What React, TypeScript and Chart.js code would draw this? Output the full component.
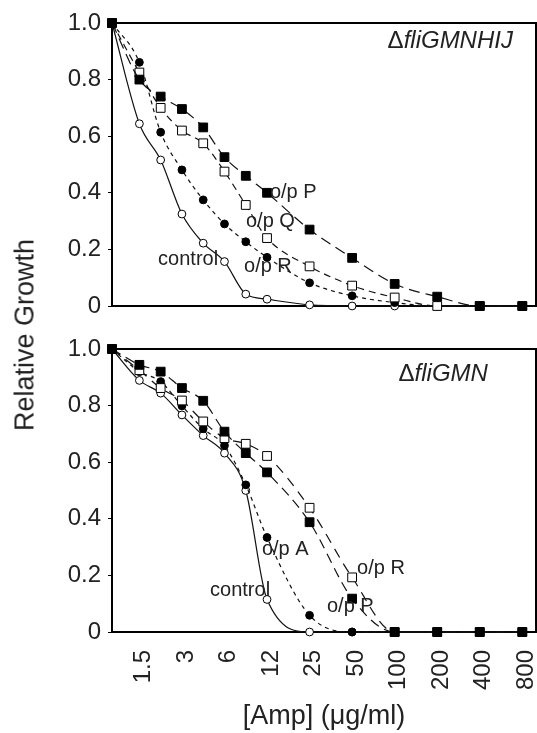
import React, { useEffect, useRef } from 'react';
import { Chart, registerables } from 'chart.js';

Chart.register(...registerables);

// ---- data ----
const concentrations = [1, 1.5625, 2.21, 3.125, 4.42, 6.25, 8.84, 12.5, 25, 50, 100, 200, 400, 800];
const tickValues = [1.5625, 3.125, 6.25, 12.5, 25, 50, 100, 200, 400, 800];
const tickLabels = ['1.5', '3', '6', '12', '25', '50', '100', '200', '400', '800'];

// top panel: ΔfliGMNHIJ
const topControl = [1.0, 0.644, 0.516, 0.325, 0.222, 0.157, 0.042, 0.024, 0.004, 0, 0, 0, 0, 0];
const topR = [1.0, 0.861, 0.614, 0.481, 0.375, 0.29, 0.227, 0.172, 0.082, 0.036, 0.012, 0, 0, 0];
const topQ = [1.0, 0.825, 0.70, 0.62, 0.575, 0.475, 0.357, 0.24, 0.14, 0.072, 0.03, 0, 0, 0];
const topP = [1.0, 0.80, 0.74, 0.696, 0.631, 0.526, 0.46, 0.40, 0.27, 0.17, 0.078, 0.033, 0, 0];

// bottom panel: ΔfliGMN
const botControl = [1.0, 0.889, 0.844, 0.767, 0.694, 0.632, 0.50, 0.115, 0, 0, 0, 0, 0, 0];
const botA = [1.0, 0.92, 0.885, 0.799, 0.718, 0.659, 0.52, 0.334, 0.059, 0, 0, 0, 0, 0];
const botR = [1.0, 0.925, 0.862, 0.818, 0.744, 0.685, 0.665, 0.622, 0.439, 0.193, 0, 0, 0, 0];
const botP = [1.0, 0.944, 0.92, 0.862, 0.817, 0.708, 0.632, 0.564, 0.388, 0.118, 0, 0, 0, 0];

const FONT = '"Liberation Sans", Arial, Helvetica, sans-serif';
const TEXT = '#222';

type Marker = 'sqFilled' | 'sqOpen' | 'cFilled' | 'cOpen';

function series(values: number[], marker: Marker, dash: number[]) {
  const isSq = marker === 'sqFilled' || marker === 'sqOpen';
  const filled = marker === 'sqFilled' || marker === 'cFilled';
  return {
    data: concentrations.map((x, i) => ({ x, y: values[i] })),
    borderColor: '#111',
    borderWidth: 1.2,
    borderDash: dash,
    pointStyle: isSq ? 'rect' : 'circle',
    pointRadius: isSq ? 6.2 : 3.9,
    pointBackgroundColor: filled ? '#000' : '#fff',
    pointBorderColor: '#000',
    pointBorderWidth: 1,
    cubicInterpolationMode: 'monotone',
    fill: false,
    clip: false,
  };
}

type Note = { text: string; x: number; y: number };

function makeConfig(bottom: boolean, datasets: any[], notes: Note[], title: { x: number; y: number; delta: string; rest: string }) {
  const annotate = {
    id: 'annotate',
    beforeDatasetsDraw(chart: any) {
      const { ctx, chartArea: a } = chart;
      ctx.save();
      ctx.strokeStyle = '#000';
      ctx.lineWidth = 2;
      ctx.strokeRect(a.left, a.top, a.right - a.left, a.bottom - a.top);
      ctx.restore();
    },
    afterDatasetsDraw(chart: any) {
      const { ctx } = chart;
      const xs = chart.scales.x;
      const ys = chart.scales.y;
      ctx.save();
      ctx.fillStyle = TEXT;
      ctx.textBaseline = 'middle';
      ctx.textAlign = 'left';
      ctx.font = `20px ${FONT}`;
      for (const n of notes) {
        ctx.fillText(n.text, xs.getPixelForValue(n.x), ys.getPixelForValue(n.y));
      }
      // panel title: upright delta + italic gene name, right aligned
      const rx = xs.getPixelForValue(title.x);
      const ry = ys.getPixelForValue(title.y);
      ctx.font = `italic 24px ${FONT}`;
      const wRest = ctx.measureText(title.rest).width;
      ctx.textAlign = 'right';
      ctx.fillText(title.rest, rx, ry);
      ctx.font = `24px ${FONT}`;
      ctx.fillText(title.delta, rx - wRest, ry);
      ctx.restore();
    },
  };

  return {
    type: 'line',
    data: { datasets },
    plugins: [annotate],
    options: {
      animation: false,
      responsive: false,
      maintainAspectRatio: false,
      layout: { autoPadding: false, padding: { top: 23, right: 1, left: 0, bottom: 0 } },
      plugins: { legend: { display: false }, tooltip: { enabled: false } },
      events: [],
      scales: {
        x: {
          type: 'logarithmic',
          min: 1,
          max: 1000,
          afterBuildTicks: (s: any) => {
            s.ticks = tickValues.map((v) => ({ value: v }));
          },
          afterFit: (s: any) => {
            s.height = bottom ? 101 : 14;
            s.paddingLeft = 0;
            s.paddingRight = 0;
          },
          ticks: {
            display: bottom,
            autoSkip: false,
            minRotation: 90,
            maxRotation: 90,
            padding: 18,
            labelOffset: 4,
            color: TEXT,
            font: { family: FONT, size: 24 },
            callback: (_v: any, i: number) => tickLabels[i],
          },
          grid: { display: false, drawTicks: false },
          border: { display: true, color: '#000', width: 2 },
          title: {
            display: bottom,
            text: '[Amp] (\u03bcg/ml)',
            color: TEXT,
            font: { family: FONT, size: 27 },
            padding: { top: 0, bottom: 0 },
          },
        },
        y: {
          min: 0,
          max: 1,
          afterFit: (s: any) => {
            s.width = 112;
            s.paddingTop = 0;
            s.paddingBottom = 0;
          },
          ticks: {
            stepSize: 0.2,
            padding: 7,
            color: TEXT,
            font: { family: FONT, size: 24 },
            callback: (v: number) => (Math.abs(v) < 1e-9 ? '0' : v.toFixed(1)),
          },
          grid: { display: true, drawOnChartArea: false, drawTicks: true, tickLength: 4, color: '#000', lineWidth: 1 },
          border: { display: true, color: '#000', width: 2 },
        },
      },
    },
  };
}

function Panel(props: { bottom: boolean; top: number; height: number; datasets: any[]; notes: Note[]; title: any }) {
  const ref = useRef<HTMLCanvasElement | null>(null);
  useEffect(() => {
    if (!ref.current) return;
    const chart = new Chart(ref.current, makeConfig(props.bottom, props.datasets, props.notes, props.title) as any);
    return () => chart.destroy();
  }, []);
  return (
    <canvas
      ref={ref}
      width={537}
      height={props.height}
      style={{ position: 'absolute', left: 0, top: props.top, width: 537, height: props.height }}
    />
  );
}

export default function App() {
  // first dataset is drawn on top in Chart.js
  const topSets = [
    series(topP, 'sqFilled', [11, 6]),
    series(topQ, 'sqOpen', [7, 5]),
    series(topR, 'cFilled', [4, 4]),
    series(topControl, 'cOpen', []),
  ];
  const botSets = [
    series(botP, 'sqFilled', [10, 6]),
    series(botR, 'sqOpen', [10, 7]),
    series(botA, 'cFilled', [4, 4]),
    series(botControl, 'cOpen', []),
  ];
  const topNotes: Note[] = [
    { text: 'o/p P', x: 13.1, y: 0.4 },
    { text: 'o/p Q', x: 8.87, y: 0.297 },
    { text: 'o/p R', x: 8.59, y: 0.138 },
    { text: 'control', x: 2.12, y: 0.163 },
  ];
  const botNotes: Note[] = [
    { text: 'o/p A', x: 11.5, y: 0.293 },
    { text: 'o/p R', x: 54.2, y: 0.226 },
    { text: 'o/p P', x: 33.2, y: 0.091 },
    { text: 'control', x: 4.94, y: 0.148 },
  ];
  return (
    <div style={{ position: 'absolute', left: 0, top: 0, width: 537, height: 733, background: '#fff', overflow: 'hidden' }}>
      <Panel bottom={false} top={0} height={320} datasets={topSets} notes={topNotes} title={{ x: 687, y: 0.934, delta: '\u0394', rest: 'fliGMNHIJ' }} />
      <Panel bottom={true} top={326} height={407} datasets={botSets} notes={botNotes} title={{ x: 457, y: 0.909, delta: '\u0394', rest: 'fliGMN' }} />
      <div
        style={{
          position: 'absolute',
          left: 25,
          top: 335,
          transform: 'translate(-50%, -50%) rotate(-90deg)',
          whiteSpace: 'nowrap',
          fontFamily: FONT,
          fontSize: 27,
          color: TEXT,
          lineHeight: 1,
        }}
      >
        Relative Growth
      </div>
    </div>
  );
}
